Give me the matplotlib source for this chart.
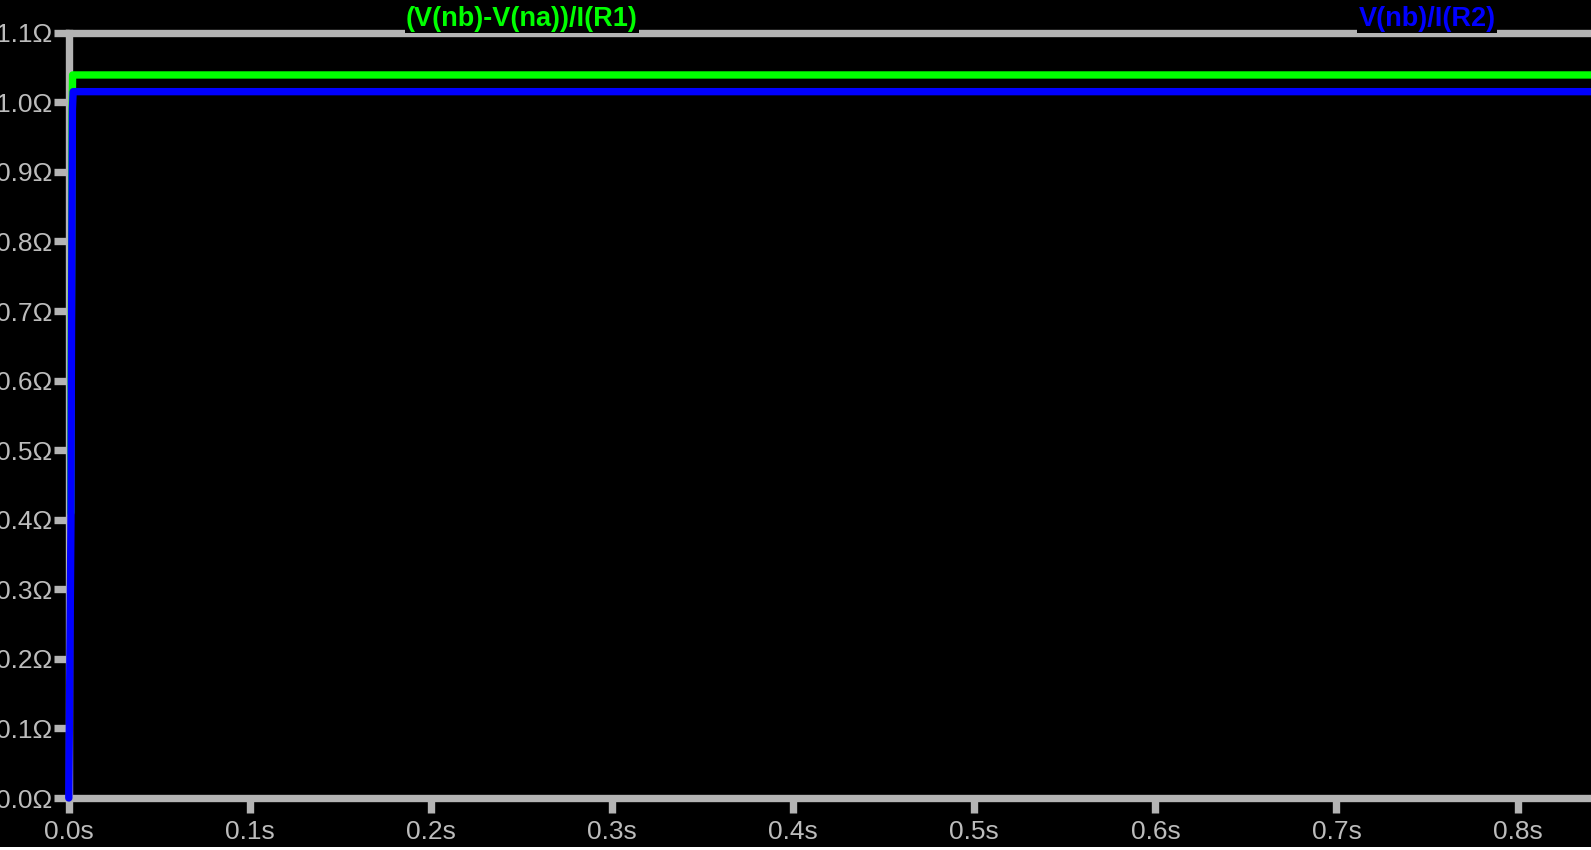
import matplotlib.pyplot as plt
from matplotlib.patches import Rectangle

# trace data
t_r1 = [0.0011, 0.0013, 0.0016, 0.0018, 0.0021, 0.845]
r1 = [0.41, 0.62, 0.82, 0.98, 1.0394, 1.0394]

t_r2 = [0.0, 0.0012, 0.0014, 0.0017, 0.0020, 0.0024, 0.845]
r2 = [0.0, 0.40, 0.60, 0.80, 0.99, 1.0154, 1.0154]

name_r1 = "(V(nb)-V(na))/I(R1)"
name_r2 = "V(nb)/I(R2)"

xticks = [0.0, 0.1, 0.2, 0.3, 0.4, 0.5, 0.6, 0.7, 0.8]
xticklabels = ["0.0s", "0.1s", "0.2s", "0.3s", "0.4s", "0.5s", "0.6s", "0.7s", "0.8s"]
yticks = [0.0, 0.1, 0.2, 0.3, 0.4, 0.5, 0.6, 0.7, 0.8, 0.9, 1.0, 1.1]
yticklabels = ["%.1fΩ" % v for v in yticks]

grey = "#b4b4b4"
txtgrey = "#bcbcbc"

plt.rcParams["font.family"] = ["Liberation Sans", "DejaVu Sans"]

fig = plt.figure(figsize=(15.91, 8.5), dpi=100, facecolor="black")
ax = fig.add_axes([68.8 / 1591, 52 / 850, 1 - 68.8 / 1591, (798 - 32.8) / 850])
ax.set_facecolor("black")

# unclipped so the trace can sit on top of the left axis line like the viewer does
ax.plot(t_r1, r1, color="#00ff00", lw=5.3, solid_joinstyle="round",
        solid_capstyle="round", zorder=3, clip_on=False)
ax.plot(t_r2, r2, color="#0000ff", lw=5.3, solid_joinstyle="round",
        solid_capstyle="round", zorder=3, clip_on=False)

ax.set_xlim(0, (1591 - 68.8) / 1811)
ax.set_ylim(0, 1.1)
ax.set_xticks(xticks)
ax.set_xticklabels(xticklabels)
ax.set_yticks(yticks)
ax.set_yticklabels(yticklabels)
ax.tick_params(colors=grey, labelcolor=txtgrey, labelsize=19, width=5.3, length=11)
ax.tick_params(axis="x", pad=5)
ax.tick_params(axis="y", pad=1)

for side in ["left", "bottom", "top"]:
    ax.spines[side].set_color(grey)
    ax.spines[side].set_linewidth(5.3)
ax.spines["right"].set_visible(False)

fig.text(522 / 1591, 1 - 25.5 / 850, name_r1, color="#00ff00", fontsize=19.5,
         fontweight="bold", ha="center", va="baseline", zorder=10,
         bbox=dict(facecolor="black", edgecolor="none", boxstyle="square,pad=0.05"))
fig.text(1427 / 1591, 1 - 25.5 / 850, name_r2, color="#0000ff", fontsize=19.5,
         fontweight="bold", ha="center", va="baseline", zorder=10,
         bbox=dict(facecolor="black", edgecolor="none", boxstyle="square,pad=0.05"))

fig.patches.append(Rectangle((0, 0), 1, 3 / 850, transform=fig.transFigure,
                             facecolor="white", edgecolor="none", zorder=20))

fig.savefig("out.png", dpi=100, facecolor="black")
